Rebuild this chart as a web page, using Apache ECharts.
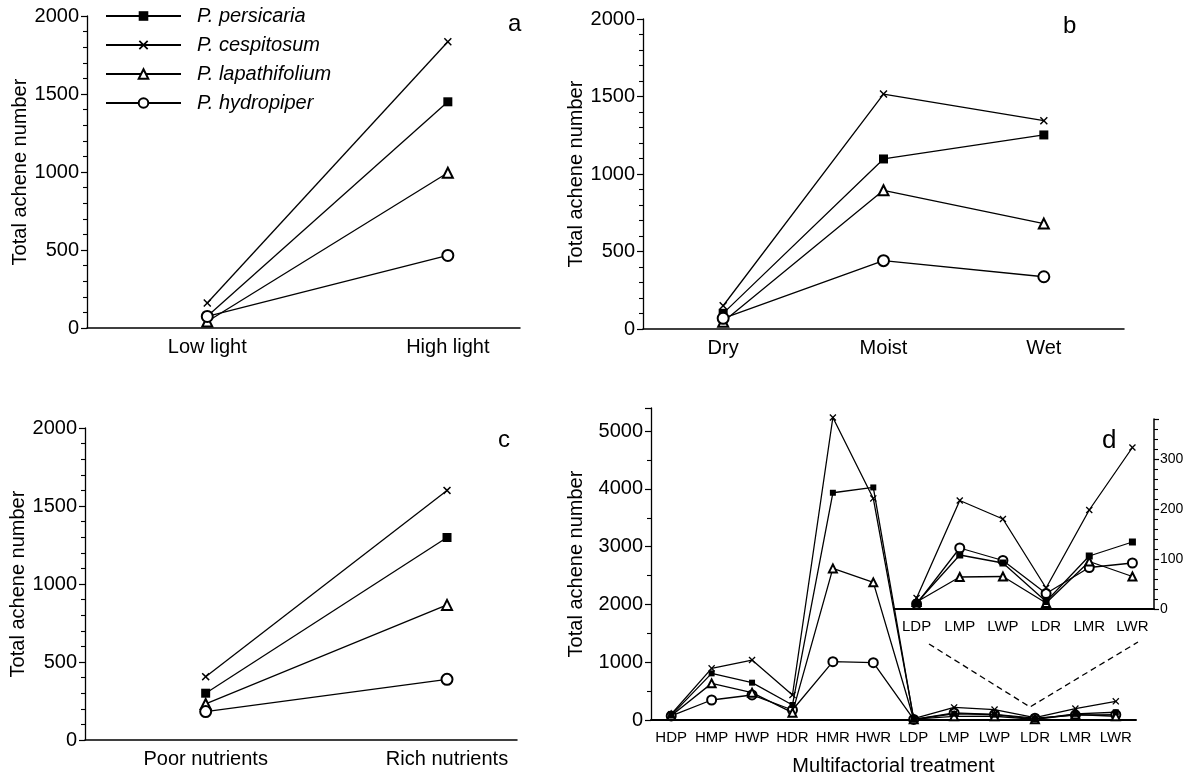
<!DOCTYPE html>
<html>
<head>
<meta charset="utf-8">
<script src="https://cdn.jsdelivr.net/npm/echarts@6/dist/echarts.min.js"></script>
<style>
html, body { margin: 0; padding: 0; background: #fff; }
#chart { width: 1192px; height: 778px; }
</style>
</head>
<body>
<div id="chart"></div>
<script>
// categories
var lightCats = ['Low light', 'High light'];
var moistCats = ['Dry', 'Moist', 'Wet'];
var nutrCats = ['Poor nutrients', 'Rich nutrients'];
var treatCats = ['HDP', 'HMP', 'HWP', 'HDR', 'HMR', 'HWR', 'LDP', 'LMP', 'LWP', 'LDR', 'LMR', 'LWR'];
var insetCats = treatCats.slice(6);

var speciesNames = ['P. persicaria', 'P. cespitosum', 'P. lapathifolium', 'P. hydropiper'];

// panel a (light)
var persLight = [75, 1450];
var cespLight = [160, 1835];
var lapLight = [42, 995];
var hydLight = [74, 465];

// panel b (moisture)
var persMoist = [101, 1097, 1252];
var cespMoist = [150, 1516, 1344];
var lapMoist = [47, 895, 680];
var hydMoist = [69, 441, 337];

// panel c (nutrients)
var persNutr = [300, 1298];
var cespNutr = [406, 1600];
var lapNutr = [231, 866];
var hydNutr = [182, 389];

// panel d (multifactorial)
var persTreat = [80, 807, 646, 260, 3933, 4025, 12, 108, 92, 15, 106, 134];
var cespTreat = [100, 894, 1038, 433, 5236, 3835, 22, 217, 180, 42, 198, 323];
var lapTreat = [75, 634, 473, 127, 2624, 2382, 14, 64, 65, 12, 95, 65];
var hydTreat = [70, 346, 433, 173, 1009, 992, 10, 122, 97, 31, 83, 92];

var FONT = '"Liberation Sans", Arial, Helvetica, sans-serif';
var xPath = 'path://M0,1.3L1.3,0L5,3.7L8.7,0L10,1.3L6.3,5L10,8.7L8.7,10L5,6.3L1.3,10L0,8.7L3.7,5Z';
var symbols = ['rect', xPath, 'emptyTriangle', 'emptyCircle'];

var chart = echarts.init(document.getElementById('chart'));

function pairs(arr) {
    return arr.map(function (v, i) { return [i, v]; });
}

function makeSeries(grid, sets, sizes, asPairs, zOrder) {
    return sets.map(function (d, k) {
        return {
            name: speciesNames[k],
            type: 'line',
            xAxisIndex: grid,
            yAxisIndex: grid,
            data: asPairs ? pairs(d) : d,
            symbol: symbols[k],
            symbolSize: sizes[k],
            showAllSymbol: true,
            color: '#000',
            lineStyle: { color: '#000', width: 1.3 },
            itemStyle: { color: '#000', borderColor: '#000', borderWidth: k >= 2 ? 1.3 : 0 },
            z: zOrder[k]
        };
    });
}

function yAxisBase(grid, max, interval, minorSplit, withName, nameGap) {
    return {
        gridIndex: grid,
        type: 'value',
        min: 0,
        max: max,
        interval: interval,
        name: withName ? 'Total achene number' : '',
        nameLocation: 'middle',
        nameGap: nameGap,
        nameTextStyle: { color: '#000', fontSize: 20, fontFamily: FONT },
        axisLine: { show: true, onZero: false, lineStyle: { color: '#000', width: 1.3 } },
        axisTick: { show: true, inside: false, length: 6, lineStyle: { color: '#000', width: 1.2 } },
        minorTick: { show: true, splitNumber: minorSplit, length: 4, lineStyle: { color: '#000', width: 1.1 } },
        splitLine: { show: false },
        minorSplitLine: { show: false },
        axisLabel: {
            color: '#000', fontSize: 20, fontFamily: FONT, margin: 8,
            showMaxLabel: max % interval === 0,
            formatter: function (v) { return String(v); }
        }
    };
}

function xValueAxis(grid, cats, max) {
    return {
        gridIndex: grid,
        type: 'value',
        min: -0.5,
        max: max,
        axisLine: { show: true, onZero: false, lineStyle: { color: '#000', width: 1.5 } },
        axisTick: { show: false },
        splitLine: { show: false },
        axisLabel: {
            customValues: cats.map(function (c, i) { return i; }),
            formatter: function (v) { return cats[Math.round(v)]; },
            color: '#000', fontSize: 20, fontFamily: FONT, margin: 9
        }
    };
}

var option = {
    animation: false,
    backgroundColor: '#fff',
    textStyle: { fontFamily: FONT },
    legend: {
        data: speciesNames,
        orient: 'vertical',
        left: 100,
        top: 1,
        itemWidth: 75,
        itemHeight: 12,
        itemGap: 9,
        textStyle: { color: '#000', fontSize: 20, fontStyle: 'italic', fontFamily: FONT, padding: [0, 0, 0, 11] }
    },
    grid: [
        { left: 87, top: 16, right: 672, bottom: 450 },
        { left: 643, top: 19, right: 68, bottom: 449 },
        { left: 85, top: 428, right: 675, bottom: 38 },
        { left: 651, top: 408, right: 56, bottom: 58 },
        { left: 895, top: 419, right: 38, bottom: 169 }
    ],
    xAxis: [
        xValueAxis(0, lightCats, 1.3),
        xValueAxis(1, moistCats, 2.5),
        xValueAxis(2, nutrCats, 1.29),
        {
            gridIndex: 3,
            type: 'category',
            data: treatCats,
            boundaryGap: true,
            name: 'Multifactorial treatment',
            nameLocation: 'middle',
            nameGap: 36,
            nameTextStyle: { color: '#000', fontSize: 20, fontFamily: FONT },
            axisLine: { show: true, onZero: false, lineStyle: { color: '#000', width: 2 } },
            axisTick: { show: false },
            axisLabel: { color: '#000', fontSize: 15, fontFamily: FONT, margin: 10, interval: 0 }
        },
        {
            gridIndex: 4,
            type: 'category',
            data: insetCats,
            boundaryGap: true,
            axisLine: { show: true, onZero: false, lineStyle: { color: '#000', width: 2 } },
            axisTick: { show: false },
            axisLabel: { color: '#000', fontSize: 15, fontFamily: FONT, margin: 10, interval: 0 }
        }
    ],
    yAxis: [
        yAxisBase(0, 2000, 500, 5, true, 47),
        yAxisBase(1, 2000, 500, 5, true, 56),
        yAxisBase(2, 2000, 500, 5, true, 51),
        yAxisBase(3, 5400, 1000, 2, true, 65),
        (function () {
            var ax = yAxisBase(4, 380, 100, 5, false, 0);
            ax.position = 'right';
            ax.axisTick.length = 5;
            ax.axisLabel.fontSize = 14;
            ax.axisLabel.margin = 6;
            ax.axisLine.lineStyle.width = 1.5;
            return ax;
        })()
    ],
    series: [].concat(
        makeSeries(0, [persLight, cespLight, lapLight, hydLight], [9, 8, 10, 11], true, [3, 4, 5, 6]),
        makeSeries(1, [persMoist, cespMoist, lapMoist, hydMoist], [9, 8, 10, 11], true, [4, 5, 3, 6]),
        makeSeries(2, [persNutr, cespNutr, lapNutr, hydNutr], [9, 8, 10, 11], true, [3, 4, 5, 6]),
        makeSeries(3, [persTreat, cespTreat, lapTreat, hydTreat], [6, 7, 8, 9], false, [6, 5, 4, 3]),
        makeSeries(4, [persTreat.slice(6), cespTreat.slice(6), lapTreat.slice(6), hydTreat.slice(6)], [7, 7, 8, 9], false, [6, 5, 4, 3])
    ),
    graphic: [
        { type: 'text', left: 508, top: 12, style: { text: 'a', fontSize: 24, fontFamily: FONT, fill: '#000' } },
        { type: 'text', left: 1063, top: 14, style: { text: 'b', fontSize: 24, fontFamily: FONT, fill: '#000' } },
        { type: 'text', left: 498, top: 428, style: { text: 'c', fontSize: 24, fontFamily: FONT, fill: '#000' } },
        { type: 'text', left: 1102, top: 428, style: { text: 'd', fontSize: 26, fontFamily: FONT, fill: '#000' } },
        {
            type: 'polyline',
            shape: { points: [[929, 644], [1030, 707], [1138, 642]] },
            style: { stroke: '#000', lineWidth: 1.3, lineDash: [6, 4], fill: null }
        }
    ]
};

chart.setOption(option);

window.addEventListener('resize', function () {
    chart.resize();
});
</script>
</body>
</html>
